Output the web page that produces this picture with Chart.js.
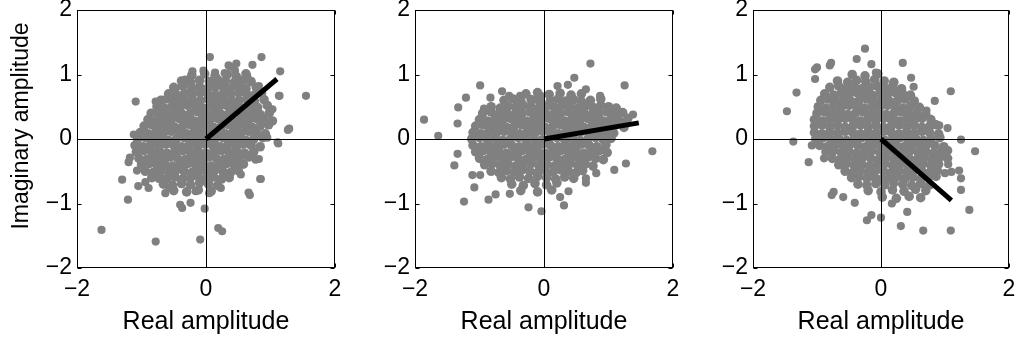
<!DOCTYPE html>
<html><head><meta charset="utf-8">
<script src="https://cdn.jsdelivr.net/npm/chart.js@4/dist/chart.umd.min.js"></script>
<style>
html,body{margin:0;padding:0;background:#fff;width:1020px;height:342px;overflow:hidden}
canvas{position:absolute;left:0;top:0}
</style></head><body>
<canvas id="c1" width="1020" height="342"></canvas>
<canvas id="c2" width="1020" height="342"></canvas>
<canvas id="c3" width="1020" height="342"></canvas>
<script>
const xTickValues = [-2, 0, 2];
const yTickValues = [-2, -1, 0, 1, 2];
const xTitle = 'Real amplitude';
const yTitle = 'Imaginary amplitude';

const phasor1 = [[0, 0], [1.1, 0.93]];
const phasor2 = [[0, 0], [1.47, 0.25]];
const phasor3 = [[0, 0], [1.1, -0.95]];

// scattered samples around each cloud
const panel1Outer = [
[-1.62,-1.41],[-0.78,-1.59],[-0.09,-1.56],[0.19,-1.38],[0.25,-1.43],[-0.02,-1.08],[0.68,-0.87],[0.85,-0.62],[1.55,0.67],[1.27,0.14],[1.15,1.05],[0.86,1.27],[0.06,1.27],[-1.09,0.58],[-1.30,-0.63],[-1.21,-0.94],[-1.12,0.07],[1.12,-0.07],[1.14,0.67],[0.47,1.17],[0.72,1.15],[-0.21,1.05],[-0.40,-1.02],[-0.37,-1.07],[-0.24,-0.99],[-0.63,-0.84],[-0.89,-0.76],[-1.05,-0.73],[-1.18,-0.29],[-0.78,0.58],[-0.73,0.35],[-0.65,0.61],[-0.47,0.79],[-0.32,0.92],[0.29,1.02],[0.38,1.12],[0.64,0.97],[0.82,0.82],[1.03,0.46],[0.95,0.02],[0.77,-0.32],[0.54,-0.55],[0.30,-0.53],[0.23,-0.76],[0.05,-0.84],[-0.16,-0.81],[-0.57,-0.76],[0.35,1.14],[0.45,1.06],[-0.04,1.06],[0.14,1.03],[1.13,0.67],[1.29,0.16],[1.11,-0.05],[0.82,-0.31],[0.84,-0.62],[0.66,-0.83],[-1.20,-0.36],[-1.07,-0.49],[-0.94,-0.67],[-0.73,-0.62]
];
// dense centre of each cloud
const panel1Core = [
[-0.22,0.99],[-0.02,1.01],[0.14,0.98],[0.33,1.0],[0.47,0.97],[0.62,1.01],
[-0.38,0.9],[-0.24,0.88],[-0.1,0.91],[0.05,0.89],[0.18,0.92],[0.3,0.9],[0.44,0.88],[0.58,0.91],[0.7,0.89],
[-0.5,0.8],[-0.36,0.82],[-0.22,0.79],[-0.1,0.81],[0.02,0.78],[0.14,0.8],[0.26,0.82],[0.38,0.79],[0.5,0.81],[0.62,0.78],[0.78,0.8],
[-0.58,0.7],[-0.45,0.68],[-0.33,0.71],[-0.21,0.69],[-0.09,0.72],[0.03,0.7],[0.15,0.68],[0.27,0.71],[0.39,0.69],[0.51,0.72],[0.63,0.7],[0.75,0.68],[0.86,0.71],
[-0.7,0.6],[-0.57,0.62],[-0.45,0.59],[-0.33,0.61],[-0.21,0.58],[-0.09,0.6],[0.03,0.62],[0.15,0.59],[0.27,0.61],[0.39,0.58],[0.51,0.6],[0.63,0.62],[0.75,0.59],[0.9,0.61],
[-0.76,0.5],[-0.64,0.48],[-0.52,0.51],[-0.4,0.49],[-0.28,0.52],[-0.16,0.5],[-0.04,0.48],[0.08,0.51],[0.2,0.49],[0.32,0.52],[0.44,0.5],[0.56,0.48],[0.68,0.51],[0.8,0.49],[0.95,0.52],
[-0.85,0.4],[-0.72,0.42],[-0.6,0.39],[-0.48,0.41],[-0.36,0.38],[-0.24,0.4],[-0.12,0.42],[0,0.39],[0.12,0.41],[0.24,0.38],[0.36,0.4],[0.48,0.42],[0.6,0.39],[0.72,0.41],[0.84,0.38],[0.98,0.4],
[-0.9,0.3],[-0.78,0.28],[-0.66,0.31],[-0.54,0.29],[-0.42,0.32],[-0.3,0.3],[-0.18,0.28],[-0.06,0.31],[0.06,0.29],[0.18,0.32],[0.3,0.3],[0.42,0.28],[0.54,0.31],[0.66,0.29],[0.78,0.32],[0.9,0.3],[1.03,0.28],
[-0.96,0.2],[-0.84,0.22],[-0.72,0.19],[-0.6,0.21],[-0.48,0.18],[-0.36,0.2],[-0.24,0.22],[-0.12,0.19],[0,0.21],[0.12,0.18],[0.24,0.2],[0.36,0.22],[0.48,0.19],[0.6,0.21],[0.72,0.18],[0.84,0.2],[0.97,0.22],
[-1.02,0.1],[-0.9,0.08],[-0.78,0.11],[-0.66,0.09],[-0.54,0.12],[-0.42,0.1],[-0.3,0.08],[-0.18,0.11],[-0.06,0.09],[0.06,0.12],[0.18,0.1],[0.3,0.08],[0.42,0.11],[0.54,0.09],[0.66,0.12],[0.78,0.1],[0.92,0.08],
[-1.06,0],[-0.94,0.02],[-0.82,-0.01],[-0.7,0.01],[-0.58,-0.02],[-0.46,0],[-0.34,0.02],[-0.22,-0.01],[-0.1,0.01],[0.02,-0.02],[0.14,0],[0.26,0.02],[0.38,-0.01],[0.5,0.01],[0.62,-0.02],[0.74,0],[0.88,0.02],
[-1.1,-0.1],[-0.98,-0.12],[-0.86,-0.09],[-0.74,-0.11],[-0.62,-0.08],[-0.5,-0.1],[-0.38,-0.12],[-0.26,-0.09],[-0.14,-0.11],[-0.02,-0.08],[0.1,-0.1],[0.22,-0.12],[0.34,-0.09],[0.46,-0.11],[0.58,-0.08],[0.7,-0.1],[0.84,-0.12],
[-1.08,-0.2],[-0.96,-0.18],[-0.84,-0.21],[-0.72,-0.19],[-0.6,-0.22],[-0.48,-0.2],[-0.36,-0.18],[-0.24,-0.21],[-0.12,-0.19],[0,-0.22],[0.12,-0.2],[0.24,-0.18],[0.36,-0.21],[0.48,-0.19],[0.6,-0.22],[0.74,-0.2],
[-1.04,-0.3],[-0.92,-0.32],[-0.8,-0.29],[-0.68,-0.31],[-0.56,-0.28],[-0.44,-0.3],[-0.32,-0.32],[-0.2,-0.29],[-0.08,-0.31],[0.04,-0.28],[0.16,-0.3],[0.28,-0.32],[0.4,-0.29],[0.52,-0.31],[0.66,-0.28],
[-1.0,-0.4],[-0.88,-0.38],[-0.76,-0.41],[-0.64,-0.39],[-0.52,-0.42],[-0.4,-0.4],[-0.28,-0.38],[-0.16,-0.41],[-0.04,-0.39],[0.08,-0.42],[0.2,-0.4],[0.32,-0.38],[0.44,-0.41],[0.58,-0.39],
[-0.94,-0.5],[-0.82,-0.52],[-0.7,-0.49],[-0.58,-0.51],[-0.46,-0.48],[-0.34,-0.5],[-0.22,-0.52],[-0.1,-0.49],[0.02,-0.51],[0.14,-0.48],[0.26,-0.5],[0.38,-0.52],[0.5,-0.49],
[-0.84,-0.6],[-0.72,-0.58],[-0.6,-0.61],[-0.48,-0.59],[-0.36,-0.62],[-0.24,-0.6],[-0.12,-0.58],[0,-0.61],[0.12,-0.59],[0.24,-0.62],[0.36,-0.6],
[-0.66,-0.7],[-0.52,-0.72],[-0.38,-0.69],[-0.24,-0.71],[-0.1,-0.68],[0.04,-0.7],[0.18,-0.72],
[-0.5,-0.8],[-0.3,-0.82],[-0.12,-0.79],[0.08,-0.81]
];

const panel2Outer = [
[-1.86,0.30],[-1.64,0.05],[-1.21,0.64],[-1.33,0.49],[-1.34,0.24],[-0.99,0.83],[-1.24,-0.97],[-1.39,-0.41],[-1.34,-0.23],[-1.11,-0.56],[-0.99,-0.56],[-1.08,-0.75],[-0.86,-0.94],[-0.75,-0.86],[-0.53,-0.85],[-0.24,-1.06],[-0.04,-1.12],[0.31,-1.03],[0.25,-0.90],[0.38,-0.81],[0.65,-0.68],[0.65,-0.61],[0.81,-0.53],[1.09,-0.48],[1.27,-0.38],[1.68,-0.19],[1.25,0.83],[0.72,1.17],[0.47,0.95],[0.21,0.82],[0.37,0.84],[0.65,0.77],[0.87,0.67],[-0.65,0.74],[-0.54,0.67],[-0.37,0.67],[-0.83,0.64],[-0.93,0.47],[-0.14,0.61],[-0.05,0.67],[0.99,0.09],[1.22,0.25],[1.38,0.38]
];
const panel2Core = [
[-0.28,0.7],[-0.1,0.72],[0.08,0.69],[0.25,0.71],[0.42,0.68],[0.58,0.7],
[-0.62,0.6],[-0.48,0.62],[-0.36,0.59],[-0.2,0.61],[-0.06,0.58],[0.1,0.6],[0.22,0.62],[0.34,0.59],[0.46,0.61],[0.58,0.58],[0.72,0.6],[0.88,0.62],
[-0.82,0.5],[-0.68,0.48],[-0.56,0.51],[-0.44,0.49],[-0.32,0.52],[-0.2,0.5],[-0.08,0.48],[0.04,0.51],[0.16,0.49],[0.28,0.52],[0.4,0.5],[0.52,0.48],[0.64,0.51],[0.76,0.49],[0.88,0.52],[1.0,0.5],[1.12,0.48],
[-0.95,0.4],[-0.82,0.42],[-0.7,0.39],[-0.58,0.41],[-0.46,0.38],[-0.34,0.4],[-0.22,0.42],[-0.1,0.39],[0.02,0.41],[0.14,0.38],[0.26,0.4],[0.38,0.42],[0.5,0.39],[0.62,0.41],[0.74,0.38],[0.86,0.4],[0.98,0.42],[1.1,0.39],[1.22,0.41],
[-1.0,0.3],[-0.88,0.28],[-0.76,0.31],[-0.64,0.29],[-0.52,0.32],[-0.4,0.3],[-0.28,0.28],[-0.16,0.31],[-0.04,0.29],[0.08,0.32],[0.2,0.3],[0.32,0.28],[0.44,0.31],[0.56,0.29],[0.68,0.32],[0.8,0.3],[0.92,0.28],[1.04,0.31],[1.16,0.29],[1.3,0.32],
[-1.06,0.2],[-0.94,0.22],[-0.82,0.19],[-0.7,0.21],[-0.58,0.18],[-0.46,0.2],[-0.34,0.22],[-0.22,0.19],[-0.1,0.21],[0.02,0.18],[0.14,0.2],[0.26,0.22],[0.38,0.19],[0.5,0.21],[0.62,0.18],[0.74,0.2],[0.86,0.22],[0.98,0.19],[1.1,0.21],[1.24,0.18],
[-1.1,0.1],[-0.98,0.08],[-0.86,0.11],[-0.74,0.09],[-0.62,0.12],[-0.5,0.1],[-0.38,0.08],[-0.26,0.11],[-0.14,0.09],[-0.02,0.12],[0.1,0.1],[0.22,0.08],[0.34,0.11],[0.46,0.09],[0.58,0.12],[0.7,0.1],[0.82,0.08],[0.94,0.11],[1.08,0.09],
[-1.12,0],[-1.0,0.02],[-0.88,-0.01],[-0.76,0.01],[-0.64,-0.02],[-0.52,0],[-0.4,0.02],[-0.28,-0.01],[-0.16,0.01],[-0.04,-0.02],[0.08,0],[0.2,0.02],[0.32,-0.01],[0.44,0.01],[0.56,-0.02],[0.68,0],[0.8,0.02],[0.92,-0.01],[1.04,0.01],
[-1.1,-0.1],[-0.98,-0.12],[-0.86,-0.09],[-0.74,-0.11],[-0.62,-0.08],[-0.5,-0.1],[-0.38,-0.12],[-0.26,-0.09],[-0.14,-0.11],[-0.02,-0.08],[0.1,-0.1],[0.22,-0.12],[0.34,-0.09],[0.46,-0.11],[0.58,-0.08],[0.7,-0.1],[0.82,-0.12],[0.96,-0.09],
[-1.06,-0.2],[-0.94,-0.18],[-0.82,-0.21],[-0.7,-0.19],[-0.58,-0.22],[-0.46,-0.2],[-0.34,-0.18],[-0.22,-0.21],[-0.1,-0.19],[0.02,-0.22],[0.14,-0.2],[0.26,-0.18],[0.38,-0.21],[0.5,-0.19],[0.62,-0.22],[0.74,-0.2],[0.86,-0.18],[0.98,-0.21],
[-1.0,-0.3],[-0.88,-0.32],[-0.76,-0.29],[-0.64,-0.31],[-0.52,-0.28],[-0.4,-0.3],[-0.28,-0.32],[-0.16,-0.29],[-0.04,-0.31],[0.08,-0.28],[0.2,-0.3],[0.32,-0.32],[0.44,-0.29],[0.56,-0.31],[0.68,-0.28],[0.8,-0.3],[0.92,-0.32],
[-0.92,-0.4],[-0.8,-0.38],[-0.68,-0.41],[-0.56,-0.39],[-0.44,-0.42],[-0.32,-0.4],[-0.2,-0.38],[-0.08,-0.41],[0.04,-0.39],[0.16,-0.42],[0.28,-0.4],[0.4,-0.38],[0.52,-0.41],[0.64,-0.39],[0.76,-0.42],
[-0.82,-0.5],[-0.7,-0.52],[-0.58,-0.49],[-0.46,-0.51],[-0.34,-0.48],[-0.22,-0.5],[-0.1,-0.52],[0.02,-0.49],[0.14,-0.51],[0.26,-0.48],[0.38,-0.5],[0.5,-0.52],[0.6,-0.49],
[-0.66,-0.6],[-0.52,-0.62],[-0.38,-0.59],[-0.24,-0.61],[-0.1,-0.58],[0.04,-0.6],[0.18,-0.62],[0.32,-0.59],[0.46,-0.61],
[-0.5,-0.7],[-0.32,-0.72],[-0.14,-0.69],[0.04,-0.71],[0.2,-0.68],
[-0.36,-0.8],[-0.1,-0.82],[0.12,-0.79]
];

const panel3Outer = [
[-1.47,0.43],[-1.37,-0.04],[-1.32,0.72],[-1.13,-0.36],[-1.08,-0.10],[-1.03,1.08],[-1.0,1.11],[-1.03,0.93],[-0.80,1.14],[-0.78,1.18],[-0.77,-0.87],[-0.74,-0.82],[-0.59,-0.90],[-0.41,-0.99],[-0.22,-1.26],[-0.15,-1.18],[0,-1.22],[-0.25,1.40],[-0.38,1.24],[-0.15,1.16],[-0.08,1.03],[0.34,1.18],[0.47,0.95],[0.51,0.81],[0.84,0.59],[1.09,0.74],[1.47,-0.19],[1.25,-0.01],[1.38,-1.10],[1.09,-1.42],[0.66,-1.42],[0.31,-1.35],[0.41,-1.13],[0.17,-1.0],[1.0,-0.53],[1.10,-0.51],[1.25,-0.79],[1.05,-0.39],[1.04,0.17],[0.91,0.21],[0.71,0.44],[1.22,-0.49],[1.25,-0.61],[-0.89,-0.30]
];
const panel3Core = [
[-0.45,1.0],[-0.25,0.98],[-0.05,1.01],
[-0.68,0.9],[-0.52,0.88],[-0.38,0.91],[-0.24,0.89],[-0.1,0.92],[0.05,0.9],[0.2,0.88],
[-0.8,0.8],[-0.66,0.82],[-0.54,0.79],[-0.42,0.81],[-0.3,0.78],[-0.18,0.8],[-0.06,0.82],[0.06,0.79],[0.18,0.81],[0.32,0.78],
[-0.88,0.7],[-0.74,0.68],[-0.62,0.71],[-0.5,0.69],[-0.38,0.72],[-0.26,0.7],[-0.14,0.68],[-0.02,0.71],[0.1,0.69],[0.22,0.72],[0.34,0.7],[0.46,0.68],
[-0.94,0.6],[-0.82,0.62],[-0.7,0.59],[-0.58,0.61],[-0.46,0.58],[-0.34,0.6],[-0.22,0.62],[-0.1,0.59],[0.02,0.61],[0.14,0.58],[0.26,0.6],[0.38,0.62],[0.52,0.59],
[-0.98,0.5],[-0.86,0.48],[-0.74,0.51],[-0.62,0.49],[-0.5,0.52],[-0.38,0.5],[-0.26,0.48],[-0.14,0.51],[-0.02,0.49],[0.1,0.52],[0.22,0.5],[0.34,0.48],[0.46,0.51],[0.6,0.49],
[-1.0,0.4],[-0.88,0.42],[-0.76,0.39],[-0.64,0.41],[-0.52,0.38],[-0.4,0.4],[-0.28,0.42],[-0.16,0.39],[-0.04,0.41],[0.08,0.38],[0.2,0.4],[0.32,0.42],[0.44,0.39],[0.56,0.41],[0.7,0.38],
[-1.04,0.3],[-0.92,0.28],[-0.8,0.31],[-0.68,0.29],[-0.56,0.32],[-0.44,0.3],[-0.32,0.28],[-0.2,0.31],[-0.08,0.29],[0.04,0.32],[0.16,0.3],[0.28,0.28],[0.4,0.31],[0.52,0.29],[0.64,0.32],[0.78,0.3],
[-1.04,0.2],[-0.92,0.22],[-0.8,0.19],[-0.68,0.21],[-0.56,0.18],[-0.44,0.2],[-0.32,0.22],[-0.2,0.19],[-0.08,0.21],[0.04,0.18],[0.16,0.2],[0.28,0.22],[0.4,0.19],[0.52,0.21],[0.64,0.18],[0.76,0.2],[0.86,0.22],
[-1.04,0.1],[-0.92,0.08],[-0.8,0.11],[-0.68,0.09],[-0.56,0.12],[-0.44,0.1],[-0.32,0.08],[-0.2,0.11],[-0.08,0.09],[0.04,0.12],[0.16,0.1],[0.28,0.08],[0.4,0.11],[0.52,0.09],[0.64,0.12],[0.76,0.1],[0.9,0.08],
[-1.02,0],[-0.9,0.02],[-0.78,-0.01],[-0.66,0.01],[-0.54,-0.02],[-0.42,0],[-0.3,0.02],[-0.18,-0.01],[-0.06,0.01],[0.06,-0.02],[0.18,0],[0.3,0.02],[0.42,-0.01],[0.54,0.01],[0.66,-0.02],[0.78,0],[0.92,0.02],
[-0.96,-0.1],[-0.84,-0.12],[-0.72,-0.09],[-0.6,-0.11],[-0.48,-0.08],[-0.36,-0.1],[-0.24,-0.12],[-0.12,-0.09],[0,-0.11],[0.12,-0.08],[0.24,-0.1],[0.36,-0.12],[0.48,-0.09],[0.6,-0.11],[0.72,-0.08],[0.84,-0.1],[0.98,-0.12],
[-0.86,-0.2],[-0.74,-0.18],[-0.62,-0.21],[-0.5,-0.19],[-0.38,-0.22],[-0.26,-0.2],[-0.14,-0.18],[-0.02,-0.21],[0.1,-0.19],[0.22,-0.22],[0.34,-0.2],[0.46,-0.18],[0.58,-0.21],[0.7,-0.19],[0.82,-0.22],[0.94,-0.2],[1.04,-0.18],
[-0.76,-0.3],[-0.64,-0.32],[-0.52,-0.29],[-0.4,-0.31],[-0.28,-0.28],[-0.16,-0.3],[-0.04,-0.32],[0.08,-0.29],[0.2,-0.31],[0.32,-0.28],[0.44,-0.3],[0.56,-0.32],[0.68,-0.29],[0.8,-0.31],[0.92,-0.28],[1.04,-0.3],
[-0.66,-0.4],[-0.54,-0.38],[-0.42,-0.41],[-0.3,-0.39],[-0.18,-0.42],[-0.06,-0.4],[0.06,-0.38],[0.18,-0.41],[0.3,-0.39],[0.42,-0.42],[0.54,-0.4],[0.66,-0.38],[0.78,-0.41],[0.9,-0.39],
[-0.56,-0.5],[-0.44,-0.52],[-0.32,-0.49],[-0.2,-0.51],[-0.08,-0.48],[0.04,-0.5],[0.16,-0.52],[0.28,-0.49],[0.4,-0.51],[0.52,-0.48],[0.64,-0.5],[0.76,-0.52],[0.88,-0.49],
[-0.46,-0.6],[-0.34,-0.58],[-0.22,-0.61],[-0.1,-0.59],[0.02,-0.62],[0.14,-0.6],[0.26,-0.58],[0.38,-0.61],[0.5,-0.59],[0.62,-0.62],[0.74,-0.6],[0.86,-0.58],
[-0.36,-0.7],[-0.22,-0.72],[-0.08,-0.69],[0.06,-0.71],[0.2,-0.68],[0.34,-0.7],[0.48,-0.72],[0.62,-0.69],[0.76,-0.71],
[-0.2,-0.8],[0.0,-0.82],[0.18,-0.79],[0.36,-0.81],[0.54,-0.78],[0.7,-0.8],
[0.02,-0.9],[0.24,-0.92],[0.44,-0.89],[0.62,-0.91]
];

const FONT = "'Liberation Sans', Arial, Helvetica, sans-serif";
Chart.defaults.font.family = FONT;
Chart.defaults.color = '#000';

const toXY = arr => arr.map(p => ({x: p[0], y: p[1]}));
const minusFmt = v => (v < 0 ? '\u2212' + Math.abs(v) : String(v));

const framePlugin = {
  id: 'frame',
  afterDatasetDraw(chart, args) {
    if (args.index !== 1) return;
    const ctx = chart.ctx, a = chart.chartArea;
    const xs = chart.scales.x, ys = chart.scales.y;
    const x0 = Math.round(xs.getPixelForValue(0)) + 0.5;
    const y0 = Math.round(ys.getPixelForValue(0)) + 0.5;
    ctx.save();
    ctx.strokeStyle = '#000'; ctx.lineWidth = 1;
    ctx.beginPath();
    ctx.moveTo(a.left, y0); ctx.lineTo(a.right, y0);
    ctx.moveTo(x0, a.top); ctx.lineTo(x0, a.bottom);
    ctx.stroke();
    ctx.restore();
  },
  afterDraw(chart) {
    const ctx = chart.ctx, a = chart.chartArea;
    const xs = chart.scales.x, ys = chart.scales.y;
    const L = Math.round(a.left) + 0.5, R = Math.round(a.right) - 0.5;
    const T = Math.round(a.top) + 0.5, B = Math.round(a.bottom) - 0.5;
    ctx.save();
    ctx.strokeStyle = '#000'; ctx.lineWidth = 1;
    ctx.strokeRect(L, T, R - L, B - T);
    ctx.beginPath();
    const tl = 4;
    yTickValues.forEach(v => {
      const y = Math.round(ys.getPixelForValue(v)) + 0.5;
      ctx.moveTo(L, y); ctx.lineTo(L + tl, y);
      ctx.moveTo(R, y); ctx.lineTo(R - tl, y);
    });
    xTickValues.forEach(v => {
      const x = Math.round(xs.getPixelForValue(v)) + 0.5;
      ctx.moveTo(x, T); ctx.lineTo(x, T + tl);
      ctx.moveTo(x, B); ctx.lineTo(x, B - tl);
    });
    ctx.stroke();
    if (chart.options.plugins.frame && chart.options.plugins.frame.yTitle) {
      ctx.fillStyle = '#000';
      ctx.font = '23px ' + FONT;
      ctx.translate(28, 126);
      ctx.rotate(-Math.PI / 2);
      ctx.textAlign = 'center';
      ctx.textBaseline = 'alphabetic';
      ctx.fillText(chart.options.plugins.frame.yTitle, 0, 0);
    }
    ctx.restore();
  }
};

function makePanel(id, outer, core, phasor, left, right, showYTitle) {
  const Y_W = 40, X_H = 74, W = 1020;
  new Chart(document.getElementById(id), {
    type: 'scatter',
    data: {
      datasets: [
        {type: 'line', data: toXY(phasor), borderColor: '#000', borderWidth: 5,
         borderCapStyle: 'butt', pointRadius: 0, fill: false, tension: 0},
        {type: 'scatter', data: toXY(outer), backgroundColor: '#808080',
         borderWidth: 0, pointRadius: 4.1, pointHoverRadius: 4.1},
        {type: 'scatter', data: toXY(core), backgroundColor: '#808080',
         borderWidth: 0, pointRadius: 4.8, pointHoverRadius: 4.8}
      ]
    },
    options: {
      responsive: false, animation: false, events: [],
      layout: {padding: {left: left - Y_W, right: W - right, top: 10, bottom: 0}},
      plugins: {legend: {display: false}, tooltip: {enabled: false},
                frame: {yTitle: showYTitle ? yTitle : null}},
      scales: {
        x: {
          type: 'linear', min: -2, max: 2,
          afterBuildTicks: s => { s.ticks = xTickValues.map(v => ({value: v})); },
          afterFit: s => { s.height = X_H; s.paddingLeft = 0; s.paddingRight = 0; },
          ticks: {font: {size: 23}, padding: 8, maxRotation: 0, callback: minusFmt, color: '#000'},
          grid: {display: false, drawTicks: false},
          border: {display: false},
          title: {display: true, text: xTitle, font: {size: 25}, padding: {top: 0, bottom: 5}, color: '#000'}
        },
        y: {
          type: 'linear', min: -2, max: 2,
          afterBuildTicks: s => { s.ticks = yTickValues.map(v => ({value: v})); },
          afterFit: s => { s.width = Y_W; s.paddingTop = 0; s.paddingBottom = 0; },
          ticks: {font: {size: 23}, padding: 5, callback: minusFmt, color: '#000'},
          grid: {display: false, drawTicks: false},
          border: {display: false}
        }
      }
    },
    plugins: [framePlugin]
  });
}

makePanel('c1', panel1Outer, panel1Core, phasor1, 77, 335, true);
makePanel('c2', panel2Outer, panel2Core, phasor2, 415, 673, false);
makePanel('c3', panel3Outer, panel3Core, phasor3, 753, 1009, false);
</script>
</body></html>
